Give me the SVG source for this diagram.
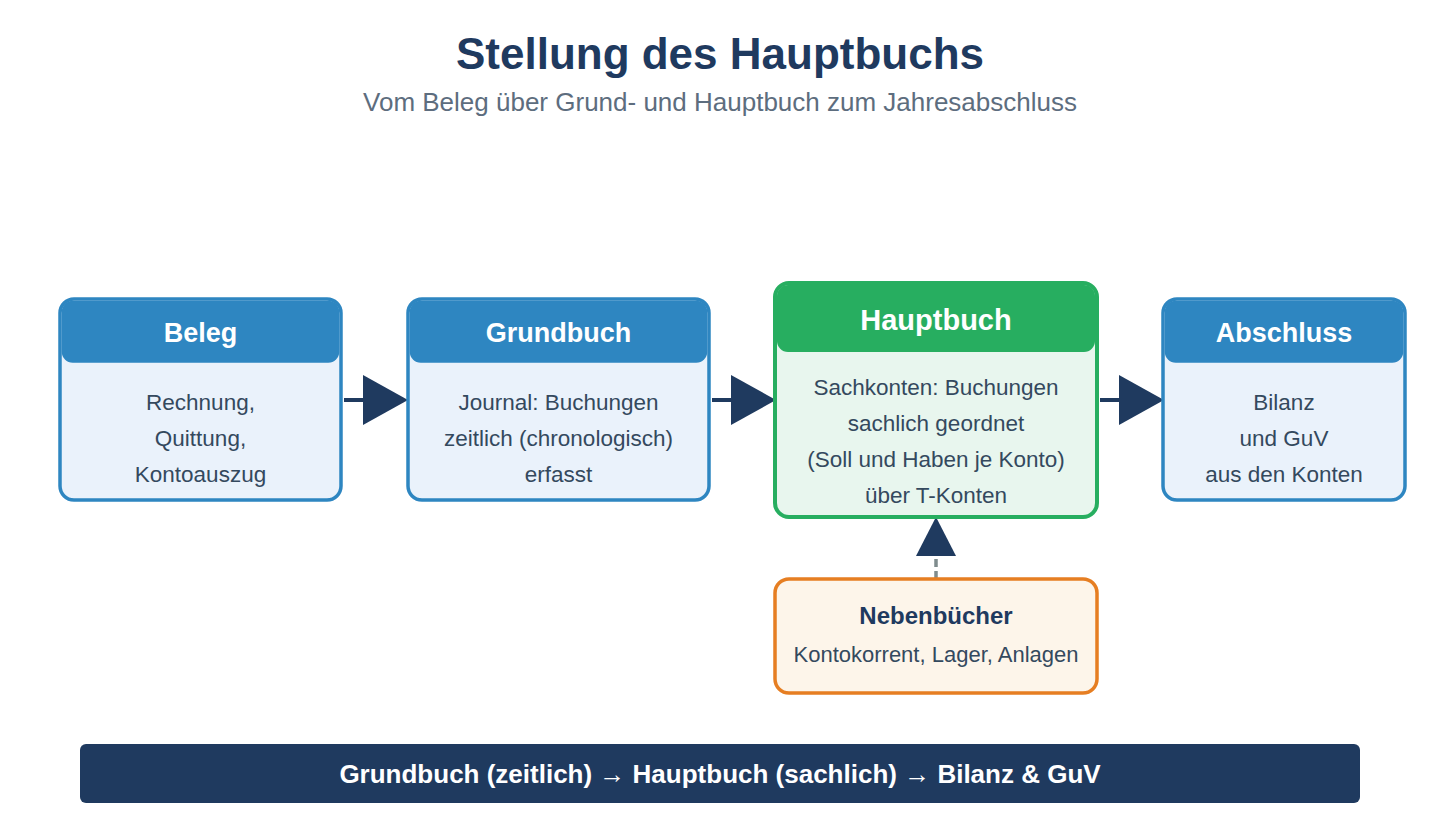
<svg xmlns="http://www.w3.org/2000/svg" width="1440" height="840" viewBox="0 0 1440 840">
  <style>
    text { font-family: "Liberation Sans", Arial, Helvetica, sans-serif; text-anchor: middle; }
    .title { font-size: 44px; font-weight: bold; fill: #1F3A5F; }
    .subtitle { font-size: 26px; fill: #5D6D7E; }
    .box-blue { fill: #EAF2FB; stroke: #2E86C1; stroke-width: 3.5; }
    .box-green { fill: #E8F6EE; stroke: #27AE60; stroke-width: 4; }
    .box-orange { fill: #FDF5EA; stroke: #E67E22; stroke-width: 3.5; }
    .hdr-blue { fill: #2E86C1; }
    .hdr-green { fill: #27AE60; }
    .hdr-text { font-size: 27px; font-weight: bold; fill: #FFFFFF; }
    .hdr-text-lg { font-size: 29px; font-weight: bold; fill: #FFFFFF; }
    .body { font-size: 22.5px; fill: #34495E; }
    .body-sm { font-size: 22px; fill: #34495E; }
    .sub-title { font-size: 24px; font-weight: bold; fill: #1F3A5F; }
    .flow { stroke: #1F3A5F; stroke-width: 4; fill: none; }
    .dashed { stroke: #7F8C8D; stroke-width: 3.5; stroke-dasharray: 8 4; fill: none; }
    .banner { fill: #1F3A5F; }
    .banner-text { font-size: 26px; font-weight: bold; fill: #FFFFFF; }
  </style>
  <defs>
    <marker id="head" markerUnits="userSpaceOnUse" markerWidth="45" markerHeight="50" refX="0" refY="25" orient="auto" viewBox="0 0 45 50">
      <path d="M0,0 L45,25 L0,50 Z" fill="#1F3A5F"/>
    </marker>
    <marker id="head-sm" markerUnits="userSpaceOnUse" markerWidth="39" markerHeight="40" refX="0" refY="20" orient="auto" viewBox="0 0 39 40">
      <path d="M0,0 L39,20 L0,40 Z" fill="#1F3A5F"/>
    </marker>
  </defs>

  <rect width="1440" height="840" fill="#FFFFFF"/>

  <g id="header">
    <text class="title" x="720" y="69">Stellung des Hauptbuchs</text>
    <text class="subtitle" x="720" y="111">Vom Beleg über Grund- und Hauptbuch zum Jahresabschluss</text>
  </g>

  <g id="connectors">
    <line class="flow" x1="344" y1="400" x2="363" y2="400" marker-end="url(#head)"/>
    <line class="flow" x1="712" y1="400" x2="731" y2="400" marker-end="url(#head)"/>
    <line class="flow" x1="1100" y1="400" x2="1119" y2="400" marker-end="url(#head)"/>
    <line class="dashed" x1="936" y1="579" x2="936" y2="556" marker-end="url(#head-sm)"/>
  </g>

  <g id="beleg">
    <rect class="box-blue" x="60" y="299" width="281" height="201" rx="14"/>
    <rect class="hdr-blue" x="61.75" y="300.75" width="277.5" height="62" rx="11"/>
    <text class="hdr-text" x="200.5" y="342">Beleg</text>
    <text class="body" x="200.5" y="410">Rechnung,</text>
    <text class="body" x="200.5" y="446">Quittung,</text>
    <text class="body" x="200.5" y="482">Kontoauszug</text>
  </g>

  <g id="grundbuch">
    <rect class="box-blue" x="408" y="299" width="301" height="201" rx="14"/>
    <rect class="hdr-blue" x="409.75" y="300.75" width="297.5" height="62" rx="11"/>
    <text class="hdr-text" x="558.5" y="342">Grundbuch</text>
    <text class="body" x="558.5" y="410">Journal: Buchungen</text>
    <text class="body" x="558.5" y="446">zeitlich (chronologisch)</text>
    <text class="body" x="558.5" y="482">erfasst</text>
  </g>

  <g id="hauptbuch">
    <rect class="box-green" x="775" y="283" width="322" height="234" rx="14"/>
    <rect class="hdr-green" x="777" y="285" width="318" height="67" rx="11"/>
    <text class="hdr-text-lg" x="936" y="330">Hauptbuch</text>
    <text class="body" x="936" y="395">Sachkonten: Buchungen</text>
    <text class="body" x="936" y="431">sachlich geordnet</text>
    <text class="body" x="936" y="467">(Soll und Haben je Konto)</text>
    <text class="body" x="936" y="503">über T-Konten</text>
  </g>

  <g id="abschluss">
    <rect class="box-blue" x="1163" y="299" width="242" height="201" rx="14"/>
    <rect class="hdr-blue" x="1164.75" y="300.75" width="238.5" height="62" rx="11"/>
    <text class="hdr-text" x="1284" y="342">Abschluss</text>
    <text class="body" x="1284" y="410">Bilanz</text>
    <text class="body" x="1284" y="446">und GuV</text>
    <text class="body" x="1284" y="482">aus den Konten</text>
  </g>

  <g id="nebenbuecher">
    <rect class="box-orange" x="775" y="579" width="322" height="114" rx="14"/>
    <text class="sub-title" x="936" y="624">Nebenbücher</text>
    <text class="body-sm" x="936" y="662">Kontokorrent, Lager, Anlagen</text>
  </g>

  <g id="summary">
    <rect class="banner" x="80" y="744" width="1280" height="59" rx="6"/>
    <text class="banner-text" x="720" y="783">Grundbuch (zeitlich) → Hauptbuch (sachlich) → Bilanz &amp; GuV</text>
  </g>
</svg>
